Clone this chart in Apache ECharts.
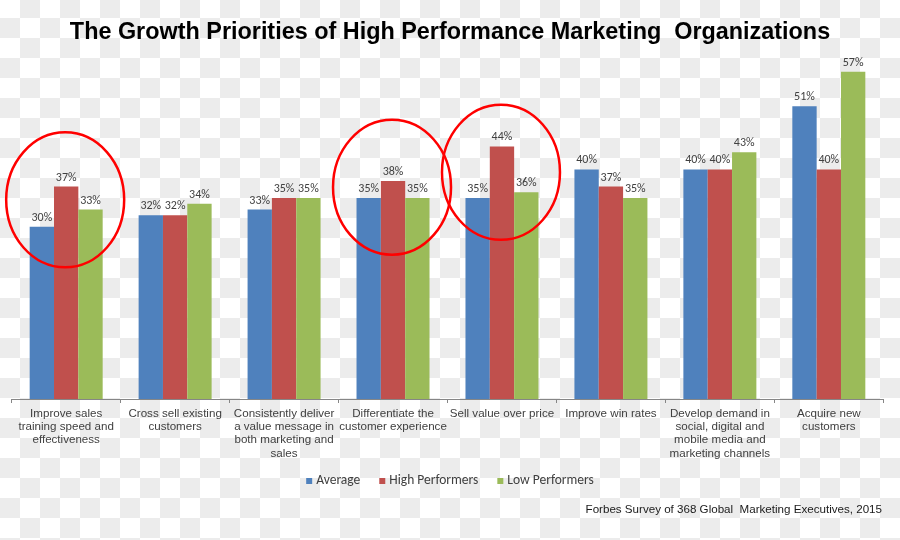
<!DOCTYPE html>
<html>
<head>
<meta charset="utf-8">
<script src="https://cdn.jsdelivr.net/npm/echarts@6/dist/echarts.min.js"></script>
<style>
  html, body { margin: 0; padding: 0; }
  body {
    width: 900px; height: 540px;
    background: repeating-conic-gradient(#ececec 0 25%, #ffffff 0 50%) 0 -2px / 40px 40px;
  }
  #chart { width: 900px; height: 540px; }
</style>
</head>
<body>
<div id="chart"></div>
<script>
const titleText = 'The Growth Priorities of High Performance Marketing  Organizations';
const sourceText = 'Forbes Survey of 368 Global  Marketing Executives, 2015';
const categories = [
  'Improve sales\ntraining speed and\neffectiveness',
  'Cross sell existing\ncustomers',
  'Consistently deliver\na value message in\nboth marketing and\nsales',
  'Differentiate the\ncustomer experience',
  'Sell value over price',
  'Improve win rates',
  'Develop demand in\nsocial, digital and\nmobile media and\nmarketing channels',
  'Acquire new\ncustomers'
];
const seriesNames = ['Average', 'High Performers', 'Low Performers'];
const average = [30, 32, 33, 35, 35, 40, 40, 51];
const highPerformers = [37, 32, 35, 38, 44, 37, 40, 40];
const lowPerformers = [33, 34, 35, 35, 36, 35, 43, 57];
// highlighted (circled) categories and the value at the centre of each circle
const circledCategories = [0, 3, 4];
const circleCenterValues = [34.7, 36.9, 39.5];

const colors = ['#4f81bd', '#c0504d', '#9bbb59'];
const labelFont = 'Carlito, Lato, "Open Sans", sans-serif';

const chart = echarts.init(document.getElementById('chart'), null, { renderer: 'canvas' });

function barSeries(name, data, color) {
  return {
    name: name,
    type: 'bar',
    data: data,
    barGap: '0%',
    barCategoryGap: '33%',
    itemStyle: { color: color },
    label: {
      show: true,
      position: 'top',
      distance: 3,
      formatter: '{c}%',
      fontFamily: labelFont,
      fontSize: 12,
      color: '#404040'
    }
  };
}

chart.setOption({
  animation: false,
  backgroundColor: 'transparent',
  title: [
    {
      text: titleText,
      left: 'center',
      top: 16,
      textStyle: {
        fontFamily: '"Liberation Sans Narrow", "Arial Narrow", "Liberation Sans", sans-serif',
        fontWeight: 'bold',
        fontSize: 23.4,
        color: '#000'
      }
    },
    {
      text: sourceText,
      right: 13,
      top: 499,
      textStyle: {
        fontFamily: '"Liberation Sans", Arial, sans-serif',
        fontWeight: 'normal',
        fontSize: 11.6,
        color: '#1a1a1a'
      }
    }
  ],
  legend: {
    data: seriesNames,
    top: 469,
    left: 'center',
    icon: 'rect',
    itemWidth: 6,
    itemHeight: 6,
    itemGap: 19,
    textStyle: {
      fontFamily: labelFont,
      fontSize: 13.5,
      color: '#404040',
      padding: [0, 0, 0, -1]
    }
  },
  grid: {
    left: 11.7,
    right: 16.7,
    top: 54.6,
    bottom: 141
  },
  xAxis: {
    type: 'category',
    data: categories,
    axisLine: { show: true, lineStyle: { color: '#868686', width: 1 } },
    axisTick: { show: true, interval: 0, length: 4, lineStyle: { color: '#868686' } },
    axisLabel: {
      interval: 0,
      margin: 8,
      fontFamily: '"Liberation Sans", Arial, sans-serif',
      fontSize: 11.6,
      lineHeight: 13.3,
      color: '#404040',
      align: 'center'
    }
  },
  yAxis: {
    type: 'value',
    min: 0,
    max: 60,
    show: false,
    splitLine: { show: false }
  },
  series: [
    barSeries(seriesNames[0], average, colors[0]),
    barSeries(seriesNames[1], highPerformers, colors[1]),
    barSeries(seriesNames[2], lowPerformers, colors[2])
  ]
});

// red circle annotations positioned through the chart's own scales
const ellipses = circledCategories.map(function (ci, i) {
  const p = chart.convertToPixel({ gridIndex: 0 }, [ci, circleCenterValues[i]]);
  return {
    type: 'ellipse',
    shape: { cx: p[0] - 1, cy: p[1], rx: 59, ry: 67.5 },
    style: { fill: 'none', stroke: '#ff0000', lineWidth: 2.5 },
    z: 100
  };
});
chart.setOption({ graphic: ellipses });
</script>
</body>
</html>
